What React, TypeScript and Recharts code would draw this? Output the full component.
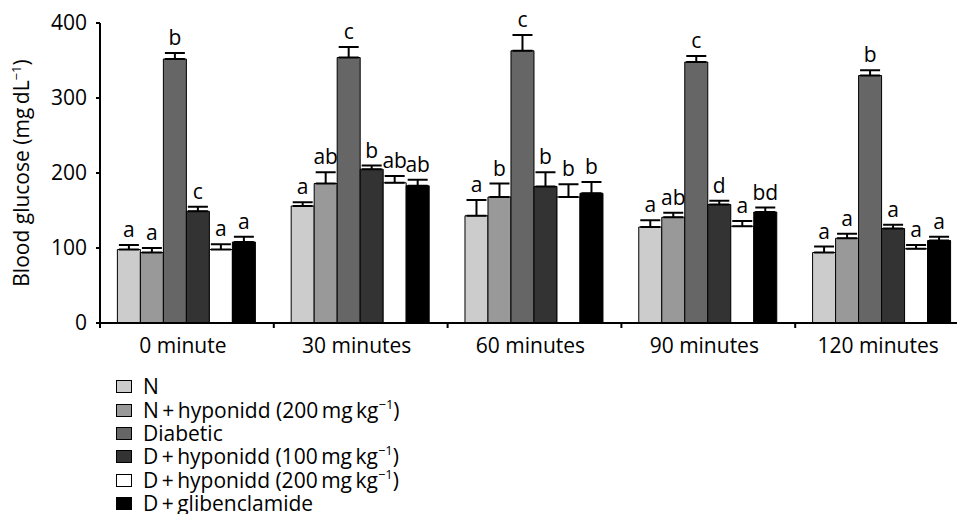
import React from 'react';
import { BarChart, Bar, XAxis, YAxis, ErrorBar, LabelList, Legend } from 'recharts';

const categories = ['0 minute', '30 minutes', '60 minutes', '90 minutes', '120 minutes'];

const nVals = [98, 156, 143, 128, 94];
const nHyp200Vals = [94, 186, 168, 141, 113];
const diabeticVals = [352, 354, 363, 348, 330];
const dHyp100Vals = [149, 205, 182, 158, 126];
const dHyp200Vals = [98, 187, 168, 129, 99];
const dGlibVals = [108, 183, 173, 148, 110];

const nErr = [6, 5, 21, 9, 8];
const nHyp200Err = [6, 15, 18, 6, 6];
const diabeticErr = [8, 14, 21, 8, 7];
const dHyp100Err = [6, 5, 19, 5, 5];
const dHyp200Err = [7, 9, 17, 7, 5];
const dGlibErr = [7, 8, 15, 6, 5];

const nLet = ['a', 'a', 'a', 'a', 'a'];
const nHyp200Let = ['a', 'ab', 'b', 'ab', 'a'];
const diabeticLet = ['b', 'c', 'c', 'c', 'b'];
const dHyp100Let = ['c', 'b', 'b', 'd', 'a'];
const dHyp200Let = ['a', 'ab', 'b', 'a', 'a'];
const dGlibLet = ['a', 'ab', 'b', 'bd', 'a'];

const yTicks = [0, 100, 200, 300, 400];

const legendNames = [
  'N',
  'N\u2009+\u2009hyponidd (200\u2009mg\u2009kg^\u22121^)',
  'Diabetic',
  'D\u2009+\u2009hyponidd (100\u2009mg\u2009kg^\u22121^)',
  'D\u2009+\u2009hyponidd (200\u2009mg\u2009kg^\u22121^)',
  'D\u2009+\u2009glibenclamide',
];

const FONT = '"Open Sans", sans-serif';
const FS = 21;

const series = [
  { key: 's0', color: '#cccccc', vals: nVals, errs: nErr, lets: nLet },
  { key: 's1', color: '#999999', vals: nHyp200Vals, errs: nHyp200Err, lets: nHyp200Let },
  { key: 's2', color: '#666666', vals: diabeticVals, errs: diabeticErr, lets: diabeticLet },
  { key: 's3', color: '#333333', vals: dHyp100Vals, errs: dHyp100Err, lets: dHyp100Let },
  { key: 's4', color: '#ffffff', vals: dHyp200Vals, errs: dHyp200Err, lets: dHyp200Let },
  { key: 's5', color: '#000000', vals: dGlibVals, errs: dGlibErr, lets: dGlibLet },
].map((s, i) => ({ ...s, name: legendNames[i] }));

const data = categories.map((c, i) => {
  const row: any = { name: c };
  series.forEach((s) => {
    row[s.key] = s.vals[i];
    row[s.key + 'E'] = [0, s.errs[i]];
    row[s.key + 'L'] = s.lets[i];
  });
  return row;
});

const renderRich = (str: string, supSize: number) => {
  const parts = str.split('^');
  return parts.map((p, i) =>
    i % 2 === 1 ? (
      <sup key={i} style={{ fontSize: supSize, lineHeight: 0, position: 'relative', top: -1 }}>{p}</sup>
    ) : (
      <span key={i}>{p}</span>
    )
  );
};

const makeLetterLabel = (vals: number[], errs: number[]) => (props: any) => {
  const vb = props.viewBox || {};
  const x = props.x ?? vb.x;
  const y = props.y ?? vb.y;
  const width = props.width ?? vb.width;
  const height = props.height ?? vb.height;
  const idx = props.index;
  const v = vals[idx];
  const pxPerUnit = Math.abs(height) / v;
  const topY = y - errs[idx] * pxPerUnit;
  return (
    <text x={x + width / 2} y={topY - 8} textAnchor="middle" fontFamily={FONT} fontSize={FS} fill="#000">
      {props.value}
    </text>
  );
};

const CategoryTick = (props: any) => {
  const { x, y, payload } = props;
  const half = payload && payload.offset ? payload.offset : 0;
  return (
    <g>
      <line x1={x - half} x2={x - half} y1={y} y2={y + 5} stroke="#000" strokeWidth={2} />
      <text x={x - 4} y={y + 30} textAnchor="middle" fontFamily={FONT} fontSize={FS} fill="#000">
        {payload.value}
      </text>
    </g>
  );
};

const YLabel = (props: any) => {
  const vb = props.viewBox || { x: 0, y: 23, width: 100, height: 300 };
  const cx = 29;
  const cy = vb.y + vb.height / 2;
  return (
    <text
      x={cx}
      y={cy}
      transform={`rotate(-90 ${cx} ${cy})`}
      textAnchor="middle"
      fontFamily={FONT}
      fontSize={FS}
      fill="#000"
    >
      Blood glucose (mg{'\u2009'}dL
      <tspan dy={-8} fontSize={13}>{'\u22121'}</tspan>
      <tspan dy={8}>)</tspan>
    </text>
  );
};

const LegendContent = () => (
  <div style={{ fontFamily: FONT, fontSize: FS, color: '#000', lineHeight: '23px' }}>
    {series.map((s) => (
      <div
        key={s.key}
        style={{ display: 'flex', alignItems: 'center', height: 23.4, lineHeight: '23px', whiteSpace: 'nowrap' }}
      >
        <span
          style={{
            display: 'inline-block',
            width: 16,
            height: 13,
            background: s.color,
            border: '1px solid #000',
            boxSizing: 'border-box',
            marginRight: 11,
            flex: 'none',
          }}
        />
        <span style={{ lineHeight: '23px' }}>{renderRich(s.name, 13)}</span>
      </div>
    ))}
  </div>
);

export default function App() {
  return (
    <div
      style={{
        position: 'absolute',
        left: 0,
        top: 0,
        width: 957,
        height: 514,
        overflow: 'hidden',
        background: '#fff',
      }}
    >
      <BarChart
        width={975}
        height={514}
        data={data}
        margin={{ top: 23, right: 6, bottom: 151, left: 0 }}
        barCategoryGap="10%"
        barGap={0}
      >
        <XAxis
          dataKey="name"
          axisLine={{ stroke: '#000', strokeWidth: 2 }}
          tickLine={false}
          tickSize={0}
          tickMargin={0}
          height={40}
          tick={<CategoryTick />}
          interval={0}
        />
        <YAxis
          width={100}
          domain={[0, 400]}
          ticks={yTicks}
          axisLine={{ stroke: '#000', strokeWidth: 2 }}
          tickLine={{ stroke: '#000', strokeWidth: 2 }}
          tickSize={4}
          tickMargin={9}
          tick={{ fontFamily: FONT, fontSize: FS, fill: '#000' }}
          label={{ content: <YLabel /> }}
        />
        <Legend
          layout="vertical"
          align="center"
          verticalAlign="middle"
          content={<LegendContent />}
          wrapperStyle={{ left: 116, top: 375, width: 440, height: 142 }}
        />
        {series.map((s) => (
          <Bar
            key={s.key}
            dataKey={s.key}
            fill={s.color}
            stroke="#000"
            strokeWidth={1}
            isAnimationActive={false}
          >
            <ErrorBar dataKey={s.key + 'E'} width={10} strokeWidth={2} stroke="#000" direction="y" />
            <LabelList dataKey={s.key + 'L'} content={makeLetterLabel(s.vals, s.errs)} />
          </Bar>
        ))}
      </BarChart>
    </div>
  );
}
